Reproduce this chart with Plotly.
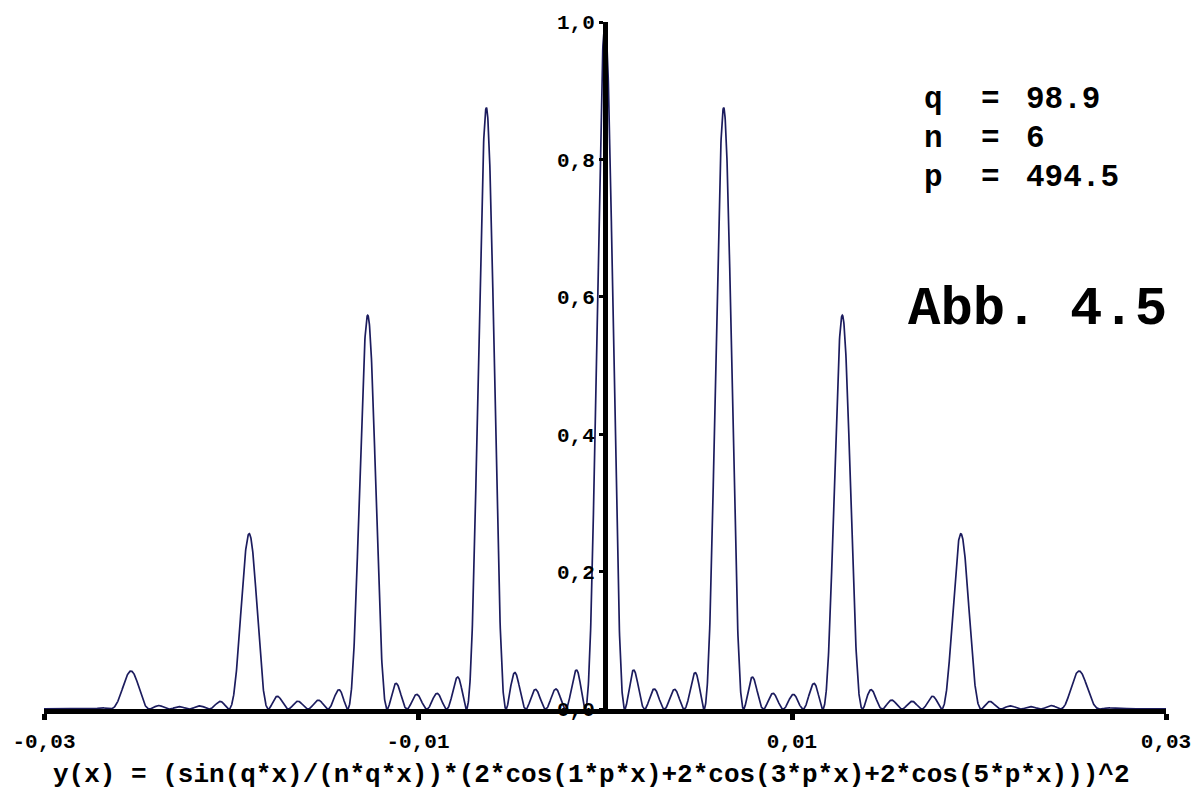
import numpy as np
import plotly.graph_objects as go

# Parameters of the plotted function
q = 98.9
n = 6
p = 494.5

# Axis ticks
x_tick_vals = [-0.03, -0.01, 0.01, 0.03]
x_tick_text = ["-0,03", "-0,01", "0,01", "0,03"]
y_tick_vals = [0.0, 0.2, 0.4, 0.6, 0.8, 1.0]
y_tick_text = ["0,0", "0,2", "0,4", "0,6", "0,8", "1,0"]

formula_text = "y(x) = (sin(q*x)/(n*q*x))*(2*cos(1*p*x)+2*cos(3*p*x)+2*cos(5*p*x)))^2"

# y(x) = (sin(q x)/(n q x) * (2cos(px) + 2cos(3px) + 2cos(5px)))^2
x = np.linspace(-0.03, 0.03, 6001)
sinc = np.sinc(q * x / np.pi)
y = (sinc / n * (2 * np.cos(1 * p * x) + 2 * np.cos(3 * p * x) + 2 * np.cos(5 * p * x))) ** 2

MONO = "Liberation Mono, Courier New, monospace"
INK = "#1c1c5e"

fig = go.Figure()
fig.add_trace(go.Scatter(x=x, y=y, mode="lines",
                         line=dict(color=INK, width=1.7),
                         hoverinfo="skip", showlegend=False))

fig.update_layout(
    width=1203, height=791,
    margin=dict(l=42, r=33, t=22, b=82),
    paper_bgcolor="white", plot_bgcolor="white",
    font=dict(family=MONO, size=21, color="black", weight="bold"),
    xaxis=dict(
        range=[-0.03, 0.03], showgrid=False, zeroline=False,
        showline=True, linecolor="black", linewidth=5,
        ticks="outside", ticklen=6, tickwidth=5, tickcolor="black",
        tickvals=x_tick_vals, ticktext=x_tick_text,
        ticklabelstandoff=3,
        tickfont=dict(family=MONO, size=21, color="black", weight="bold"),
    ),
    yaxis=dict(
        range=[0, 1], showgrid=False, zeroline=False,
        anchor="free", position=0.5,
        showline=True, linecolor="black", linewidth=5,
        ticks="outside", ticklen=4, tickwidth=3, tickcolor="black",
        tickvals=y_tick_vals, ticktext=y_tick_text,
        tickfont=dict(family=MONO, size=21, color="black", weight="bold"),
    ),
)

# Parameter block at the upper right
params = [("q", f"{q}"), ("n", f"{n}"), ("p", f"{p}")]
row_y = [0.8865, 0.8305, 0.7740]
for (name, val), yy in zip(params, row_y):
    fig.add_annotation(x=0.7828, y=yy, xref="paper", yref="paper", text=name,
                       showarrow=False, xanchor="left", yanchor="middle",
                       font=dict(family=MONO, size=31, color="black", weight="bold"))
    fig.add_annotation(x=0.844, y=yy, xref="paper", yref="paper", text="=",
                       showarrow=False, xanchor="center", yanchor="middle",
                       font=dict(family=MONO, size=31, color="black", weight="bold"))
    fig.add_annotation(x=0.8732, y=yy, xref="paper", yref="paper", text=val,
                       showarrow=False, xanchor="left", yanchor="middle",
                       font=dict(family=MONO, size=31, color="black", weight="bold"))

fig.add_annotation(x=0.768, y=0.582, xref="paper", yref="paper", text="Abb. 4.5",
                   showarrow=False, xanchor="left", yanchor="middle",
                   font=dict(family=MONO, size=54, color="black", weight="bold"))

fig.add_annotation(x=0.4876, y=-0.096, xref="paper", yref="paper", text=formula_text,
                   showarrow=False, xanchor="center", yanchor="middle",
                   font=dict(family=MONO, size=26, color="black", weight="bold"))

fig.write_html("out.html")
